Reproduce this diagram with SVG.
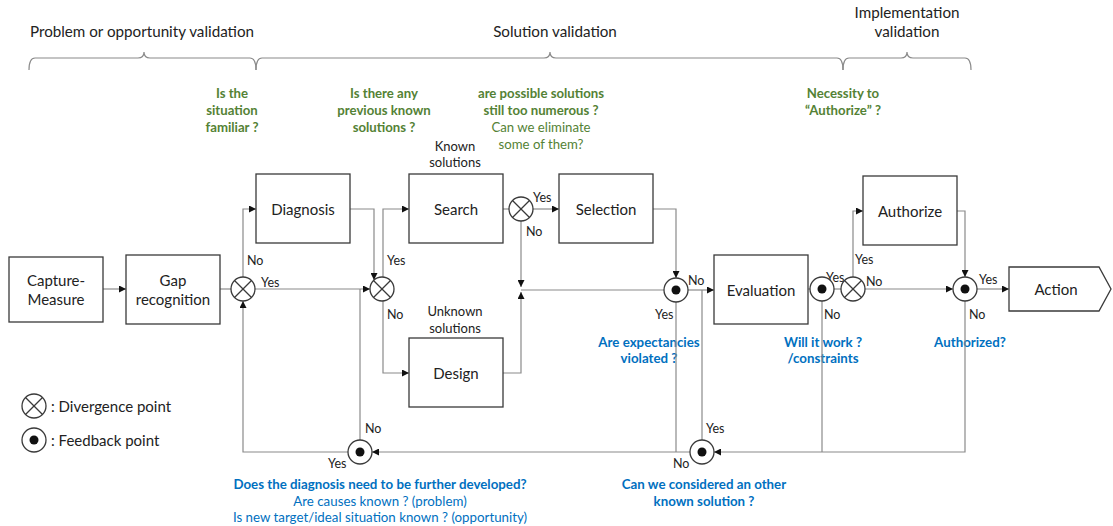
<svg xmlns="http://www.w3.org/2000/svg" width="1113" height="526" viewBox="0 0 1113 526">
<style>
text{font-family:Lato,"Liberation Sans",sans-serif;dominant-baseline:central}
.box{fill:#fff;stroke:#3a3a3a;stroke-width:1.3}
.bl{font-size:15px;fill:#222;text-anchor:middle}
.ph{font-size:15.2px;fill:#222;text-anchor:middle}
.lb{font-size:12.5px;fill:#222}
.g{font-size:13.2px;fill:#548235;text-anchor:middle;font-weight:bold}
.gn{font-size:13.2px;fill:#548235;text-anchor:middle}
.b{font-size:13.3px;fill:#0070C0;text-anchor:middle;font-weight:bold}
.bn{font-size:13.3px;fill:#0070C0;text-anchor:middle}
.k{font-size:13px;fill:#222;text-anchor:middle}
.c{fill:none;stroke:#8a8a8a;stroke-width:1.2}
.ca{fill:none;stroke:#8a8a8a;stroke-width:1.2;marker-end:url(#ah)}
.br{fill:none;stroke:#8a8a8a;stroke-width:1.2}
.pt{fill:#fff;stroke:#3a3a3a;stroke-width:1.3}
.x{stroke:#3a3a3a;stroke-width:1.3}
.lg{font-size:15px;fill:#222}
</style>
<defs>
<marker id="ah" markerWidth="8" markerHeight="7" refX="7" refY="3.5" orient="auto" markerUnits="userSpaceOnUse">
<path d="M0,0 L7,3.5 L0,7 z" fill="#111"/>
</marker>
<g id="div">
<circle r="12" class="pt"/>
<line x1="-8.5" y1="-8.5" x2="8.5" y2="8.5" class="x"/>
<line x1="-8.5" y1="8.5" x2="8.5" y2="-8.5" class="x"/>
</g>
<g id="fb">
<circle r="12" class="pt"/>
<circle r="4.5" fill="#111"/>
</g>
</defs>

<g id="phases">
<text x="142" y="31" class="ph">Problem or opportunity validation</text>
<text x="555" y="31" class="ph">Solution validation</text>
<text x="907" y="12" class="ph">Implementation</text>
<text x="907" y="31" class="ph">validation</text>
<path class="br" d="M29,70 Q29,58 35,58 L138,58 Q144,58 144,52 Q144,58 150,58 L250,58 Q256,58 256,70"/>
<path class="br" d="M256,70 Q256,58 262,58 L544,58 Q550,58 550,52 Q550,58 556,58 L837,58 Q843,58 843,70"/>
<path class="br" d="M843,70 Q843,58 849,58 L901,58 Q907,58 907,52 Q907,58 913,58 L965,58 Q971,58 971,70"/>
</g>

<g id="questions">
<text x="232" y="93" class="g">Is the</text>
<text x="232" y="110" class="g">situation</text>
<text x="232" y="127" class="g">familiar ?</text>
<text x="384" y="93" class="g">Is there any</text>
<text x="384" y="110" class="g">previous known</text>
<text x="384" y="127" class="g">solutions ?</text>
<text x="541" y="93" class="g">are possible solutions</text>
<text x="541" y="110" class="g">still too numerous ?</text>
<text x="541" y="127" class="gn">Can we eliminate</text>
<text x="541" y="144" class="gn">some of them?</text>
<text x="843" y="93" class="g">Necessity to</text>
<text x="843" y="110" class="g">“Authorize” ?</text>
<text x="455" y="146" class="k">Known</text>
<text x="455" y="162" class="k">solutions</text>
<text x="455" y="311" class="k">Unknown</text>
<text x="455" y="328" class="k">solutions</text>
<text x="649" y="342" class="b">Are expectancies</text>
<text x="649" y="358" class="b">violated ?</text>
<text x="823" y="342" class="b">Will it work ?</text>
<text x="823" y="358" class="b">/constraints</text>
<text x="970" y="342" class="b">Authorized?</text>
<text x="380" y="484" class="b">Does the diagnosis need to be further developed?</text>
<text x="380" y="501" class="bn">Are causes known ? (problem)</text>
<text x="380" y="517" class="bn">Is new target/ideal situation known ? (opportunity)</text>
<text x="704" y="484" class="b">Can we considered an other</text>
<text x="704" y="501" class="b">known solution ?</text>
</g>

<g id="connectors">
<path class="ca" d="M103,289 H126"/>
<path class="c" d="M220,289 H231"/>
<path class="ca" d="M255,289 H370"/>
<path class="ca" d="M243,277 V209 H256"/>
<path class="ca" d="M348,452 H243 V301"/>
<path class="c" d="M360,440 V289"/>
<path class="ca" d="M350,209 H374 V280"/>
<path class="ca" d="M383,277 V209 H409"/>
<path class="ca" d="M383,301 V373 H409"/>
<path class="c" d="M503,209 H509"/>
<path class="ca" d="M533,209 H559"/>
<path class="ca" d="M521,221 V287"/>
<path class="ca" d="M503,373 H521 V292"/>
<path class="c" d="M521,290 H664"/>
<path class="ca" d="M653,209 H676 V278"/>
<path class="ca" d="M688,290 H714"/>
<path class="c" d="M676,302 V452"/>
<path class="c" d="M702,440 V290"/>
<path class="ca" d="M690,452 H372"/>
<path class="c" d="M808,289 H810"/>
<path class="c" d="M834,289 H841"/>
<path class="ca" d="M853,277 V211 H863"/>
<path class="ca" d="M865,289 H953"/>
<path class="ca" d="M957,211 H965 V277"/>
<path class="ca" d="M977,289 H1009"/>
<path class="ca" d="M965,301 V452 H714"/>
<path class="c" d="M822,301 V452"/>
</g>

<g id="labels">
<text x="247" y="260" class="lb">No</text>
<text x="261" y="282" class="lb">Yes</text>
<text x="387" y="260" class="lb">Yes</text>
<text x="387" y="314" class="lb">No</text>
<text x="533" y="197" class="lb">Yes</text>
<text x="526" y="231" class="lb">No</text>
<text x="688" y="280" class="lb">No</text>
<text x="655" y="314" class="lb">Yes</text>
<text x="826" y="277" class="lb">Yes</text>
<text x="824" y="314" class="lb">No</text>
<text x="855" y="259" class="lb">Yes</text>
<text x="866" y="281" class="lb">No</text>
<text x="979" y="279" class="lb">Yes</text>
<text x="969" y="314" class="lb">No</text>
<text x="365" y="428" class="lb">No</text>
<text x="328" y="463" class="lb">Yes</text>
<text x="706" y="428" class="lb">Yes</text>
<text x="673" y="463" class="lb">No</text>
</g>

<g id="capture"><rect x="9" y="257" width="94" height="65" class="box"/><text x="56" y="280" class="bl">Capture-</text><text x="56" y="299" class="bl">Measure</text></g>
<g id="gap"><rect x="126" y="255" width="94" height="69" class="box"/><text x="173" y="280" class="bl">Gap</text><text x="173" y="299" class="bl">recognition</text></g>
<g id="diagnosis"><rect x="256" y="174" width="94" height="69" class="box"/><text x="303" y="209" class="bl">Diagnosis</text></g>
<g id="search"><rect x="409" y="174" width="94" height="69" class="box"/><text x="456" y="209" class="bl">Search</text></g>
<g id="selection"><rect x="559" y="174" width="94" height="69" class="box"/><text x="606" y="209" class="bl">Selection</text></g>
<g id="design"><rect x="409" y="338" width="94" height="69" class="box"/><text x="456" y="373" class="bl">Design</text></g>
<g id="evaluation"><rect x="714" y="255" width="94" height="69" class="box"/><text x="761" y="290" class="bl">Evaluation</text></g>
<g id="authorize"><rect x="863" y="176" width="94" height="69" class="box"/><text x="910" y="211" class="bl">Authorize</text></g>
<g id="action"><polygon points="1009,267 1099,267 1111,289 1099,311 1009,311" class="box"/><text x="1056" y="289" class="bl">Action</text></g>

<g id="div1"><use href="#div" x="243" y="289"/></g>
<g id="div2"><use href="#div" x="382" y="289"/></g>
<g id="div3"><use href="#div" x="521" y="209"/></g>
<g id="div4"><use href="#div" x="853" y="289"/></g>
<g id="fb1"><use href="#fb" x="676" y="290"/></g>
<g id="fb2"><use href="#fb" x="822" y="289"/></g>
<g id="fb3"><use href="#fb" x="965" y="289"/></g>
<g id="fb4"><use href="#fb" x="360" y="452"/></g>
<g id="fb5"><use href="#fb" x="702" y="452"/></g>

<g id="legend">
<use href="#div" x="34" y="406"/>
<text x="51" y="406" class="lg">: Divergence point</text>
<use href="#fb" x="34" y="440"/>
<text x="51" y="440" class="lg">: Feedback point</text>
</g>
</svg>
